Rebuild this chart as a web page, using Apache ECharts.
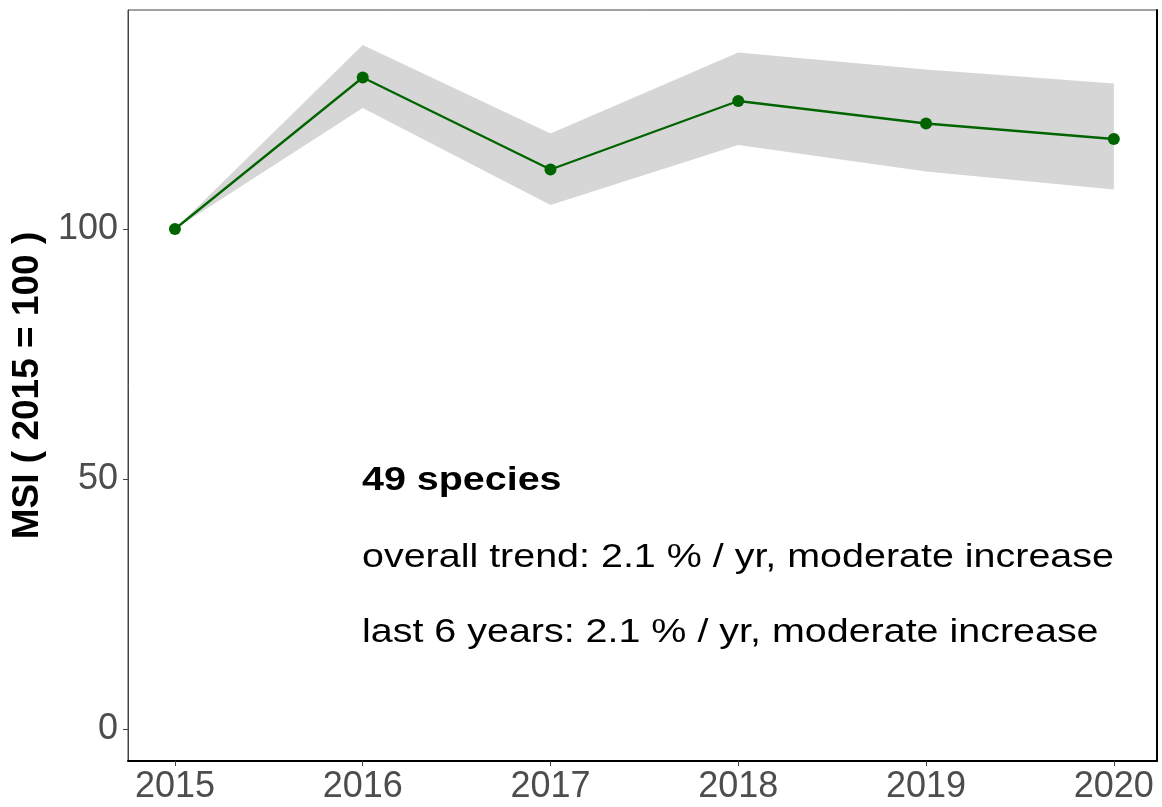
<!DOCTYPE html>
<html>
<head>
<meta charset="utf-8">
<script src="https://cdn.jsdelivr.net/npm/echarts@6/dist/echarts.min.js"></script>
<style>
  html, body { margin: 0; padding: 0; background: #ffffff; }
  #chart { width: 1162px; height: 807px; }
</style>
</head>
<body>
<div id="chart"></div>
<script>
// Multi-species index, 2015 = 100
const years = [2015, 2016, 2017, 2018, 2019, 2020];
const msi = [100, 130.3, 111.9, 125.6, 121.1, 118.0];
const ciLower = [100, 124.2, 104.8, 116.8, 111.5, 107.9];
const ciUpper = [100, 136.8, 119.1, 135.3, 131.9, 129.1];
const yTicks = [0, 50, 100];
const notes = [
  '49 species',
  'overall trend: 2.1 % / yr, moderate increase',
  'last 6 years: 2.1 % / yr, moderate increase'
];

const FONT = '"Liberation Sans", Arial, sans-serif';
const Y_MIN = -6.4, Y_MAX = 143.8;

const chart = echarts.init(document.getElementById('chart'), null, { renderer: 'canvas' });

const bandRows = years.map((y, i) => [y, ciLower[i], ciUpper[i]]);
const msiPts = years.map((y, i) => [y, msi[i]]);

// Confidence band: one polygon through the upper edge, back along the lower edge
function renderBand(params, api) {
  if (params.dataIndex !== 0) return null;
  const upper = bandRows.map(r => api.coord([r[0], r[2]]));
  const lower = bandRows.map(r => api.coord([r[0], r[1]])).reverse();
  return {
    type: 'polygon',
    shape: { points: upper.concat(lower) },
    style: { fill: '#d6d6d6' },
    silent: true
  };
}

chart.setOption({
  backgroundColor: '#ffffff',
  animation: false,
  grid: {
    left: 128, right: 5, top: 10, bottom: 46,
    show: true, borderColor: '#444444', borderWidth: 1, backgroundColor: '#ffffff'
  },
  xAxis: {
    type: 'value',
    min: 2014.75, max: 2020.23,
    axisLine: { show: true, onZero: false, lineStyle: { color: '#000000', width: 2 } },
    axisTick: { show: true, customValues: years, length: 5, lineStyle: { color: '#444444', width: 1 } },
    axisLabel: {
      customValues: years, margin: 8,
      color: '#4d4d4d', fontSize: 36, fontFamily: FONT,
      formatter: v => String(v)
    },
    splitLine: { show: false }
  },
  yAxis: [{
    type: 'value',
    min: Y_MIN, max: Y_MAX,
    name: 'MSI ( 2015 = 100 )',
    nameLocation: 'middle',
    nameGap: 82,
    nameTextStyle: { fontSize: 37, fontWeight: 'bold', color: '#000000', fontFamily: FONT },
    axisLine: { show: true, lineStyle: { color: '#444444', width: 1 } },
    axisTick: { show: true, customValues: yTicks, length: 5, lineStyle: { color: '#444444', width: 1 } },
    axisLabel: {
      customValues: yTicks, margin: 10,
      color: '#4d4d4d', fontSize: 36, fontFamily: FONT
    },
    splitLine: { show: false }
  }, {
    type: 'value',
    position: 'right',
    min: Y_MIN, max: Y_MAX,
    axisLine: { show: true, lineStyle: { color: '#000000', width: 2 } },
    axisTick: { show: false },
    axisLabel: { show: false },
    splitLine: { show: false }
  }],
  series: [
    {
      name: 'ci-band',
      type: 'custom',
      renderItem: renderBand,
      data: bandRows,
      encode: { x: 0, y: [1, 2] },
      silent: true,
      z: 1
    },
    {
      name: 'MSI',
      type: 'line',
      data: msiPts,
      symbol: 'circle',
      symbolSize: 12,
      itemStyle: { color: '#006400' },
      lineStyle: { color: '#006400', width: 2.3 },
      z: 3
    }
  ],
  graphic: [
    {
      type: 'text', x: 362, y: 481, scaleX: 1.16,
      style: { x: 0, y: 0, text: notes[0], fontSize: 34, fontWeight: 'bold', fontFamily: FONT, fill: '#000000', verticalAlign: 'middle' }
    },
    {
      type: 'text', x: 362, y: 558, scaleX: 1.16,
      style: { x: 0, y: 0, text: notes[1], fontSize: 34, fontFamily: FONT, fill: '#000000', verticalAlign: 'middle' }
    },
    {
      type: 'text', x: 362, y: 633, scaleX: 1.16,
      style: { x: 0, y: 0, text: notes[2], fontSize: 34, fontFamily: FONT, fill: '#000000', verticalAlign: 'middle' }
    }
  ]
});
</script>
</body>
</html>
